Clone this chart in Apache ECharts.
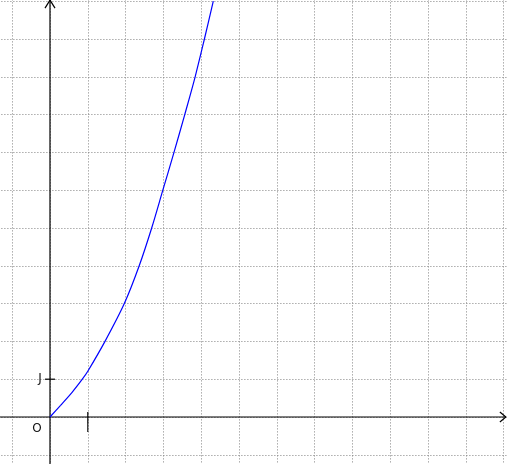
<!DOCTYPE html>
<html>
<head>
<meta charset="utf-8">
<script src="https://cdn.jsdelivr.net/npm/echarts@6/dist/echarts.min.js"></script>
<style>
html,body{margin:0;padding:0;background:#fff;}
#chart{width:508px;height:464px;}
</style>
</head>
<body>
<div id="chart"></div>
<script>
// Curve values
const curveX = [0, 0.28, 0.59, 0.855, 1.0, 1.455, 1.966, 2.36, 2.69, 2.985, 3.28, 3.565, 3.84, 4.085, 4.32];
const curveY = [0, 0.31, 0.66, 1, 1.21, 2, 3, 4, 5, 6, 7, 8, 9, 10, 11];
// Axis decorations
const axisLabelO = 'O';
const axisLabelI = 'I';
const axisLabelJ = 'J';
const xArrowEnd = 12.06;
const yArrowEnd = 11.03;
const xMin = -2, xMax = 13, yMin = -2, yMax = 12;

const chart = echarts.init(document.getElementById('chart'), null, {renderer: 'canvas'});
const curveData = curveX.map((x, i) => [x, curveY[i]]);

const gridLine = {show: true, lineStyle: {color: '#808080', width: 1, type: [1, 2]}};

chart.setOption({
  animation: false,
  backgroundColor: '#ffffff',
  grid: {left: -25.6, top: -36.6, width: 567, height: 529.2, containLabel: false, outerBoundsMode: 'none'},
  xAxis: {
    type: 'value', min: xMin, max: xMax, interval: 1,
    axisLine: {show: false}, axisTick: {show: false}, axisLabel: {show: false},
    splitLine: gridLine
  },
  yAxis: {
    type: 'value', min: yMin, max: yMax, interval: 1,
    axisLine: {show: false}, axisTick: {show: false}, axisLabel: {show: false},
    splitLine: gridLine
  },
  series: [
    {
      type: 'custom',
      data: [[0, 0]],
      silent: true,
      clip: false,
      z: 3,
      renderItem: function (params, api) {
        const o = api.coord([0, 0]);
        const xl = api.coord([xMin, 0]);
        const xe = api.coord([xArrowEnd, 0]);
        const yb = api.coord([0, yMin]);
        const ye = api.coord([0, yArrowEnd]);
        const t1 = api.coord([1, 0]);
        const t2 = api.coord([0, 1]);
        const ls = {stroke: '#000', lineWidth: 1.2, fill: null};
        const font = '12px "DejaVu Sans", sans-serif';
        return {
          type: 'group',
          children: [
            {type: 'line', shape: {x1: xl[0], y1: o[1], x2: xe[0], y2: o[1]}, style: ls},
            {type: 'line', shape: {x1: o[0], y1: yb[1], x2: o[0], y2: ye[1]}, style: ls},
            {type: 'polyline', shape: {points: [[xe[0] - 6, o[1] - 5], [xe[0], o[1]], [xe[0] - 6, o[1] + 5]]}, style: ls},
            {type: 'polyline', shape: {points: [[o[0] - 5, ye[1] + 8], [o[0], ye[1]], [o[0] + 5, ye[1] + 8]]}, style: ls},
            {type: 'line', shape: {x1: t1[0], y1: o[1] - 5, x2: t1[0], y2: o[1] + 6}, style: ls},
            {type: 'line', shape: {x1: o[0] - 5, y1: t2[1], x2: o[0] + 5, y2: t2[1]}, style: ls},
            {type: 'text', x: o[0] - 13, y: o[1] + 12, style: {text: axisLabelO, fill: '#111', font: font, align: 'center', verticalAlign: 'middle', textAlign: 'center', textVerticalAlign: 'middle'}},
            {type: 'text', x: t1[0], y: o[1] + 12, style: {text: axisLabelI, fill: '#111', font: font, align: 'center', verticalAlign: 'middle', textAlign: 'center', textVerticalAlign: 'middle'}},
            {type: 'text', x: o[0] - 10, y: t2[1], style: {text: axisLabelJ, fill: '#111', font: font, align: 'center', verticalAlign: 'middle', textAlign: 'center', textVerticalAlign: 'middle'}}
          ]
        };
      }
    },
    {
      type: 'line',
      data: curveData,
      smooth: 0.3,
      showSymbol: false,
      symbol: 'none',
      z: 4,
      lineStyle: {color: '#0000ff', width: 1.2}
    }
  ]
});
</script>
</body>
</html>
